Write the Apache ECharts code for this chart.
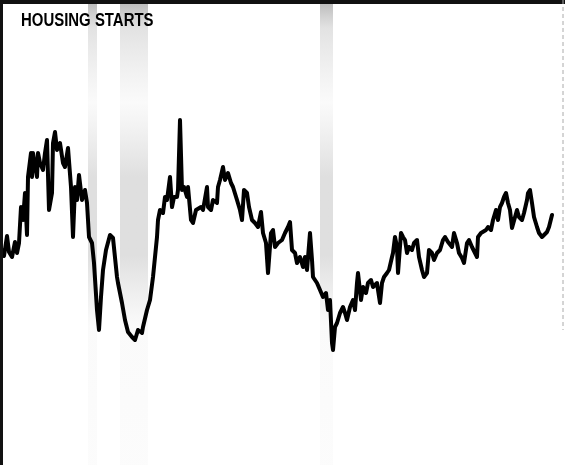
<!DOCTYPE html>
<html>
<head>
<meta charset="utf-8">
<script src="https://cdn.jsdelivr.net/npm/echarts@6/dist/echarts.min.js"></script>
<style>html,body{margin:0;padding:0;background:#fff}#c{width:565px;height:465px}</style>
</head>
<body>
<div id="c"></div>
<script>
const title = 'HOUSING STARTS';
const period = [2,4,7,9,12,15,17,19,21,23,25,27,28,31,32,33,37,38,40,43,45,47,49,52,53,55,57,60,63,65,68,71,73,75,77,79,82,85,87,89,92,94,97,99,101,103,106,110,113,117,118,122,125,128,132,135,138,142,143,147,150,153,157,158,160,163,165,167,170,172,174,177,178,180,182,184,187,188,191,193,196,198,201,203,207,208,211,213,217,218,220,223,225,228,231,233,237,240,242,244,247,249,252,255,258,261,263,266,268,271,273,275,278,282,285,288,290,292,295,297,300,303,305,307,310,312,313,317,320,323,326,328,330,332,333,335,337,340,343,345,347,350,353,355,357,358,361,363,366,368,371,373,377,378,380,382,384,387,389,392,393,395,397,398,401,403,405,407,409,412,414,417,419,422,424,427,429,432,434,437,440,443,445,448,452,454,457,459,462,464,467,469,472,474,477,478,481,483,486,488,491,493,496,498,500,502,504,506,508,510,512,514,517,519,522,524,527,528,530,532,534,537,539,542,544,547,549,552];
const starts = [215,209,229,213,208,223,212,222,258,245,272,230,288,312,288,312,288,312,302,295,312,325,255,272,322,333,315,322,302,298,317,278,228,278,265,290,265,275,262,228,222,202,155,135,168,195,215,230,227,188,182,162,145,133,128,125,135,132,138,155,165,188,228,245,255,252,268,265,288,258,268,268,275,345,275,278,268,278,245,242,255,255,258,255,278,258,255,265,262,278,285,298,285,292,282,278,265,255,245,275,272,258,245,242,238,253,232,222,192,232,235,218,222,225,232,238,243,215,212,202,208,198,208,195,232,205,188,182,175,168,172,155,165,122,115,138,142,152,158,152,145,158,165,155,182,192,165,178,172,182,185,178,182,175,162,182,188,192,195,208,212,228,218,192,232,228,225,212,218,215,222,225,208,195,188,192,215,212,205,212,215,225,228,223,218,232,222,212,207,202,222,225,218,218,208,228,232,232,235,238,235,245,255,245,258,262,268,272,262,255,237,238,255,248,245,252,265,272,275,262,248,238,232,228,230,233,238,250];
const bandStart = [88, 120, 320];
const bandEnd = [97, 148, 333];

const chart = echarts.init(document.getElementById('c'), null, {renderer: 'canvas'});
const shade = {
  type: 'linear', x: 0, y: 0, x2: 0, y2: 1,
  colorStops: [
    {offset: 0, color: 'rgba(110,110,110,0.5)'},
    {offset: 0.06, color: 'rgba(140,140,140,0.25)'},
    {offset: 0.22, color: 'rgba(160,160,160,0.05)'},
    {offset: 0.38, color: 'rgba(140,140,140,0.28)'},
    {offset: 0.55, color: 'rgba(140,140,140,0.28)'},
    {offset: 0.7, color: 'rgba(160,160,160,0.05)'},
    {offset: 1, color: 'rgba(170,170,170,0.04)'}
  ]
};
const areas = bandStart.map((s, i) => [{xAxis: s}, {xAxis: bandEnd[i]}]);
chart.setOption({
  animation: false,
  backgroundColor: '#fff',
  grid: {left: 0, right: 0, top: 0, bottom: 0},
  xAxis: {type: 'value', min: 0, max: 565, show: false},
  yAxis: {type: 'value', min: 0, max: 465, show: false},
  series: [{
    type: 'line',
    data: period.map((p, i) => [p, starts[i]]),
    showSymbol: false,
    lineStyle: {color: '#000', width: 4, join: 'round', cap: 'round'},
    z: 3,
    markArea: {silent: true, itemStyle: {color: shade}, data: areas}
  }],
  graphic: [
    {type: 'rect', left: 0, top: 0, shape: {width: 565, height: 4}, style: {fill: '#111'}, z: 10},
    {type: 'rect', left: 0, top: 0, shape: {width: 3, height: 465}, style: {fill: '#111'}, z: 10},
    {type: 'line', shape: {x1: 563, y1: 0, x2: 563, y2: 330}, style: {stroke: '#aaa', lineWidth: 1, lineDash: [4, 3]}, z: 10},
    {type: 'text', x: 21, y: 12, scaleX: 0.83, z: 11,
     style: {text: title, fill: '#000', font: 'bold 18px "Liberation Sans", Arial, sans-serif'}}
  ]
});
</script>
</body>
</html>
